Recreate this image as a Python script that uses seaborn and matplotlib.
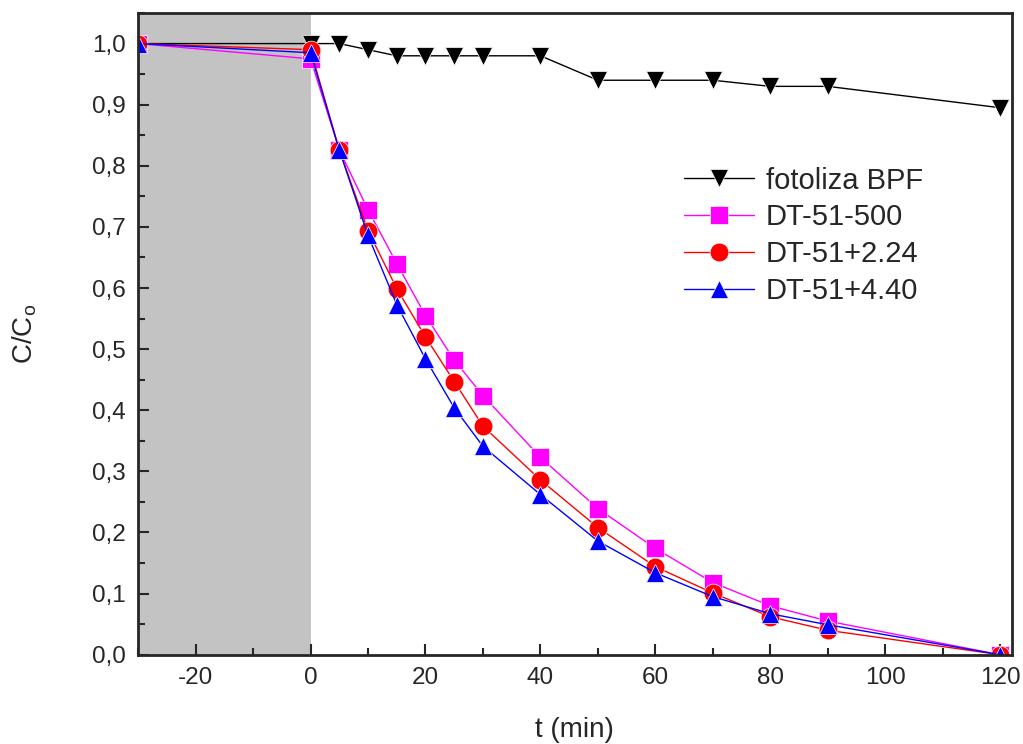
import numpy as np
import pandas as pd
import matplotlib
matplotlib.use("Agg")
import matplotlib.pyplot as plt
import seaborn as sns
from matplotlib.ticker import MultipleLocator, FuncFormatter

t = [-30, 0, 5, 10, 15, 20, 25, 30, 40, 50, 60, 70, 80, 90, 120]
fotoliza = [1.0, 1.0, 1.0, 0.99, 0.98, 0.98, 0.98, 0.98, 0.98, 0.94, 0.94, 0.94, 0.93, 0.93, 0.895]
dt500 = [1.0, 0.975, 0.826, 0.728, 0.640, 0.555, 0.482, 0.424, 0.323, 0.239, 0.174, 0.118, 0.080, 0.055, 0.0]
dt224 = [1.0, 0.99, 0.826, 0.694, 0.599, 0.520, 0.447, 0.374, 0.286, 0.208, 0.144, 0.101, 0.062, 0.040, 0.0]
dt440 = [1.0, 0.985, 0.826, 0.686, 0.573, 0.484, 0.404, 0.341, 0.262, 0.186, 0.134, 0.095, 0.067, 0.049, 0.0]

names = ["fotoliza BPF", "DT-51-500", "DT-51+2.24", "DT-51+4.40"]
series = [fotoliza, dt500, dt224, dt440]
colors = {"fotoliza BPF": "black", "DT-51-500": "#ff00ff", "DT-51+2.24": "#ff0000", "DT-51+4.40": "#0000ff"}
markers = {"fotoliza BPF": "v", "DT-51-500": "s", "DT-51+2.24": "o", "DT-51+4.40": "^"}

df = pd.concat([pd.DataFrame({"t": t, "c": s, "series": n}) for n, s in zip(names, series)], ignore_index=True)

sns.set_style("ticks")
plt.rcParams["font.family"] = ["Liberation Sans", "DejaVu Sans"]

fig = plt.figure(figsize=(10.23, 7.44), dpi=100)
ax = fig.add_axes([0.135, 0.12, 0.854, 0.8625])

ax.axvspan(-30, 0, color="#c3c3c3", lw=0, zorder=0)

sns.lineplot(data=df, x="t", y="c", hue="series", style="series", hue_order=names, style_order=names,
             palette=colors, markers=markers, dashes=False, markersize=13.5, linewidth=1,
             markeredgewidth=0.5, sort=False, ax=ax)

ax.set_xlim(-30, 122)
ax.set_ylim(0, 1.05)
ax.xaxis.set_major_locator(MultipleLocator(20))
ax.xaxis.set_minor_locator(MultipleLocator(10))
ax.yaxis.set_major_locator(MultipleLocator(0.1))
ax.yaxis.set_minor_locator(MultipleLocator(0.05))
ax.yaxis.set_major_formatter(FuncFormatter(lambda v, p: f"{v:.1f}".replace(".", ",")))
ax.xaxis.set_major_formatter(FuncFormatter(lambda v, p: f"{v:.0f}"))
ax.tick_params(which="both", direction="in", top=False, right=False, labelsize=17.5, width=1.5, pad=9)
ax.tick_params(which="major", length=8)
ax.tick_params(which="minor", length=5)
for sp in ax.spines.values():
    sp.set_linewidth(2)
    sp.set_visible(True)

ax.set_xlabel("t (min)", fontsize=20, labelpad=20)
ax.set_ylabel("C/C$_\\mathregular{o}$", fontsize=20, labelpad=38)

leg = ax.legend(frameon=False, fontsize=21, loc="center left", bbox_to_anchor=(0.595, 0.653),
                handlelength=2.4, labelspacing=0.3, handletextpad=0.4)

fig.savefig("out.png", dpi=100)
